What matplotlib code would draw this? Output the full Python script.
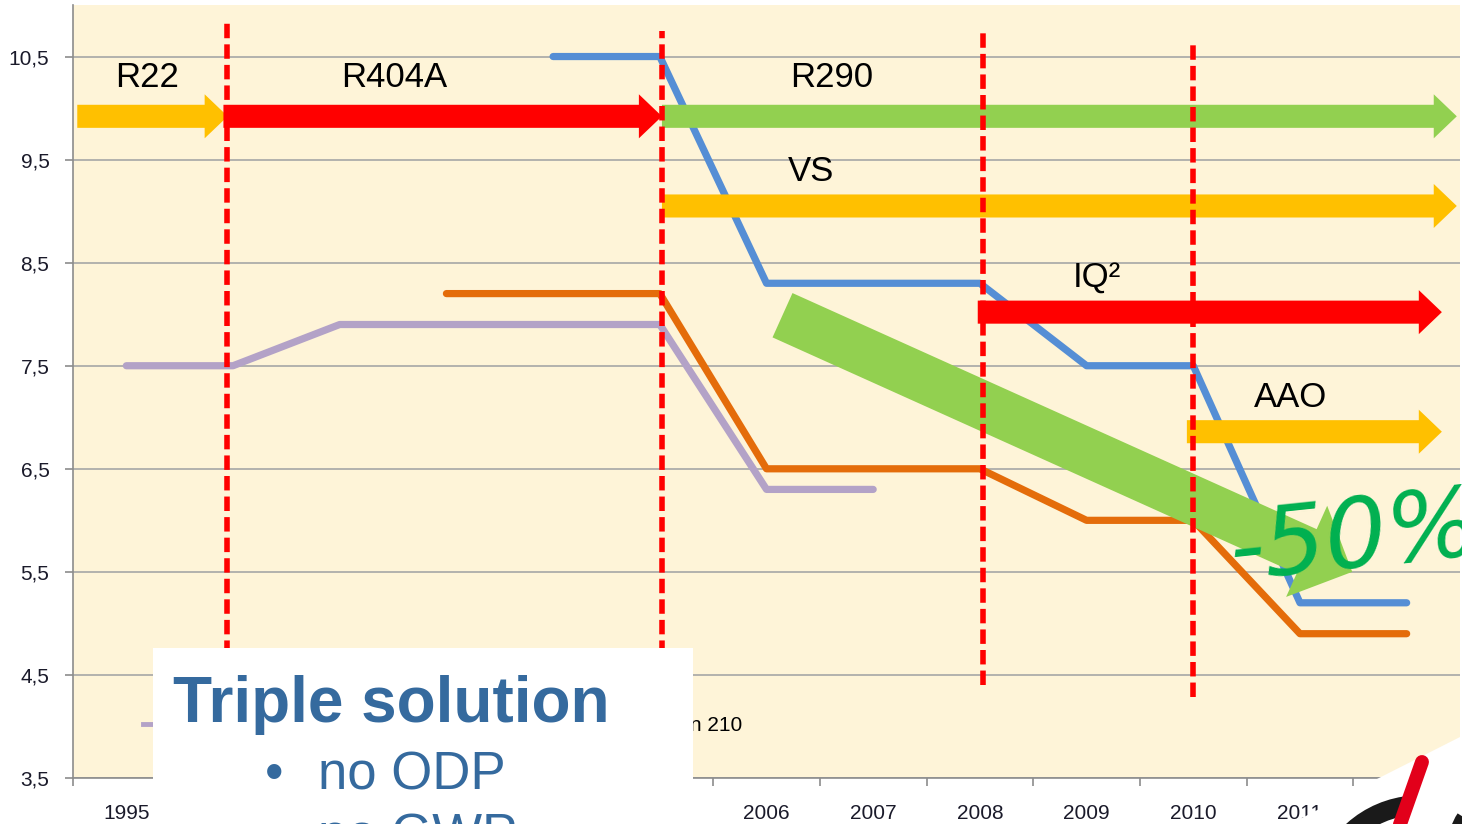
import numpy as np
import matplotlib
matplotlib.use('Agg')
import matplotlib.pyplot as plt
from matplotlib.patches import Rectangle, Polygon, Arc
from matplotlib.lines import Line2D

W, H = 1462, 824

years = ['1995', '2001', '2002', '2003', '2004', '2005', '2006',
         '2007', '2008', '2009', '2010', '2011', '2012']
nan = np.nan
series_names = ['Version 190', 'Version 200', 'Version 210']
purple_vals = [7.5, 7.5, 7.9, 7.9, 7.9, 7.9, 6.3, 6.3, nan, nan, nan, nan, nan]
orange_vals = [nan, nan, nan, 8.2, 8.2, 8.2, 6.5, 6.5, 6.5, 6.0, 6.0, 4.9, 4.9]
blue_vals = [nan, nan, nan, nan, 10.5, 10.5, 8.3, 8.3, 8.3, 7.5, 7.5, 5.2, 5.2]
yticks = [3.5, 4.5, 5.5, 6.5, 7.5, 8.5, 9.5, 10.5]
ytick_labels = ['3,5', '4,5', '5,5', '6,5', '7,5', '8,5', '9,5', '10,5']

# refrigerant change-over lines
switch_x = [0.94, 5.02, 8.03, 10.0]
switch_top = [10.87, 10.75, 10.77, 10.64]
switch_bottom = [4.3, 4.3, 4.40, 4.29]

# technology arrows
arrow_labels = ['R22', 'R404A', 'R290', 'VS', 'IQ²', 'AAO']
arrow_start = [-0.46, 0.91, 5.02, 5.02, 7.98, 9.94]
arrow_end = [0.95, 5.02, 12.47, 12.47, 12.33, 12.33]
arrow_y = [9.92, 9.92, 9.92, 9.05, 8.02, 6.86]
arrow_colors = ['#FFC000', '#FF0000', '#92D050', '#FFC000', '#FF0000', '#FFC000']
label_x = [0.19, 2.51, 6.61, 6.42, 9.10, 10.91]
label_y = [10.30, 10.30, 10.30, 9.38, 8.36, 7.19]

trend_start = (6.15, 7.99)
trend_end = (11.49, 5.50)

tick_font = ['Liberation Sans Narrow', 'Liberation Sans', 'DejaVu Sans']

fig = plt.figure(figsize=(W / 100, H / 100), dpi=100)
fig.patch.set_facecolor('white')
ax = fig.add_axes([73 / W, 46 / H, 1387 / W, 773 / H])
ax.set_facecolor('#FEF4D8')

x = np.arange(len(years))
ax.plot(x, purple_vals, color='#B3A2C7', lw=5.2, solid_capstyle='round', zorder=3)
ax.plot(x, orange_vals, color='#E46C0A', lw=5.2, solid_capstyle='round', zorder=3)
ax.plot(x, blue_vals, color='#558ED5', lw=5.2, solid_capstyle='round', zorder=3)

ax.set_xlim(-0.5, 12.5)
ax.set_ylim(3.5, 11.0)
ax.set_yticks(yticks)
ax.set_yticklabels(ytick_labels)
ax.set_xticks(x)
ax.set_xticklabels(years)
ax.set_xticks(np.arange(-0.5, 13, 1), minor=True)
ax.tick_params(axis='x', which='major', length=0, pad=19)
ax.tick_params(axis='x', which='minor', length=6, color='#8C8C8C', width=1.2)
ax.tick_params(axis='y', length=6, color='#8C8C8C', width=1.2, pad=11)
for lab in ax.get_xticklabels() + ax.get_yticklabels():
    lab.set_family(tick_font)
    lab.set_fontsize(15)
    lab.set_color('#1A1A2A')
ax.grid(axis='y', color='#A6A6A6', lw=1.2, zorder=1)
ax.set_axisbelow(True)
for s in ['top', 'right']:
    ax.spines[s].set_visible(False)
for s in ['left', 'bottom']:
    ax.spines[s].set_color('#8C8C8C')
    ax.spines[s].set_linewidth(1.2)

handles = [Line2D([], [], color=c, lw=3.5) for c in ['#B3A2C7', '#E46C0A', '#558ED5']]
ax.legend(handles, series_names, loc='center left', bbox_to_anchor=(0.0505, 0.068),
          ncol=3, frameon=False, borderpad=0, borderaxespad=0, handlelength=2,
          handletextpad=0.8, columnspacing=2.23,
          prop={'family': tick_font, 'size': 15})

# technology arrows with labels
for lab, xs, xe, yy, c, lx, ly in zip(arrow_labels, arrow_start, arrow_end, arrow_y,
                                      arrow_colors, label_x, label_y):
    ax.annotate('', xy=(xe, yy), xytext=(xs, yy),
                arrowprops=dict(arrowstyle='simple,head_length=1.66,head_width=3.17,tail_width=1.66',
                                color=c, lw=0, shrinkA=0, shrinkB=0, mutation_scale=10),
                zorder=4)
    ax.text(lx, ly, lab, ha='center', va='center', fontsize=25,
            family=['Liberation Sans', 'DejaVu Sans'], color='black', zorder=6)

ax.annotate('', xy=trend_end, xytext=trend_start,
            arrowprops=dict(arrowstyle='simple,head_length=3.6,head_width=7.2,tail_width=3.5',
                            color='#92D050', lw=0, shrinkA=0, shrinkB=0, mutation_scale=10),
            zorder=5)

for sx, st, sb in zip(switch_x, switch_top, switch_bottom):
    ax.plot([sx, sx], [sb, st], color='#FF0000', lw=4, ls=(0, (2.6, 1.1)), zorder=7)

ax.text(10.30, 5.80, '-50%', fontsize=70, color='#00B050', style='italic',
        ha='left', va='center', rotation=6, clip_on=False, zorder=8)

# slide overlay: text box
fig.add_artist(Rectangle((153 / W, 0), 540 / W, 176 / H, transform=fig.transFigure,
                         facecolor='white', edgecolor='none', zorder=10))
box_color = '#356A9E'
fig.text(173 / W, 1 - 722 / H, 'Triple solution', fontsize=46, fontweight='bold',
         family='Liberation Sans', color=box_color, zorder=11)
fig.text(265 / W, 1 - 790 / H, '•', fontsize=38, family='Liberation Sans',
         color=box_color, zorder=11)
fig.text(318 / W, 1 - 790 / H, 'no ODP', fontsize=38, family='Liberation Sans',
         color=box_color, zorder=11)
fig.text(265 / W, 1 - 852 / H, '•', fontsize=38, family='Liberation Sans',
         color=box_color, zorder=11)
fig.text(318 / W, 1 - 852 / H, 'no GWP', fontsize=38, family='Liberation Sans',
         color=box_color, zorder=11)

# logo corner
fig.add_artist(Polygon([(1300 / W, 0), (1300 / W, 1 - 819 / H), (1375 / W, 1 - 780 / H),
                        (1, 1 - 736 / H), (1, 0)],
                       closed=True, transform=fig.transFigure, facecolor='white',
                       edgecolor='none', zorder=10))
fig.add_artist(Arc((1420 / W, 1 - 905 / H), 200 / W, 200 / H, theta1=95, theta2=170,
                   transform=fig.transFigure, color='#1A1A1A', lw=14, zorder=11))
fig.add_artist(Arc((1505 / W, 1 - 845 / H), 100 / W, 100 / H, theta1=130, theta2=230,
                   transform=fig.transFigure, color='#1A1A1A', lw=10, zorder=11))
fig.add_artist(Line2D([1422 / W, 1398 / W], [1 - 762 / H, 1 - 830 / H],
                      transform=fig.transFigure, color='#E2001A', lw=10,
                      solid_capstyle='round', zorder=12))

fig.savefig('out.png', dpi=100)
